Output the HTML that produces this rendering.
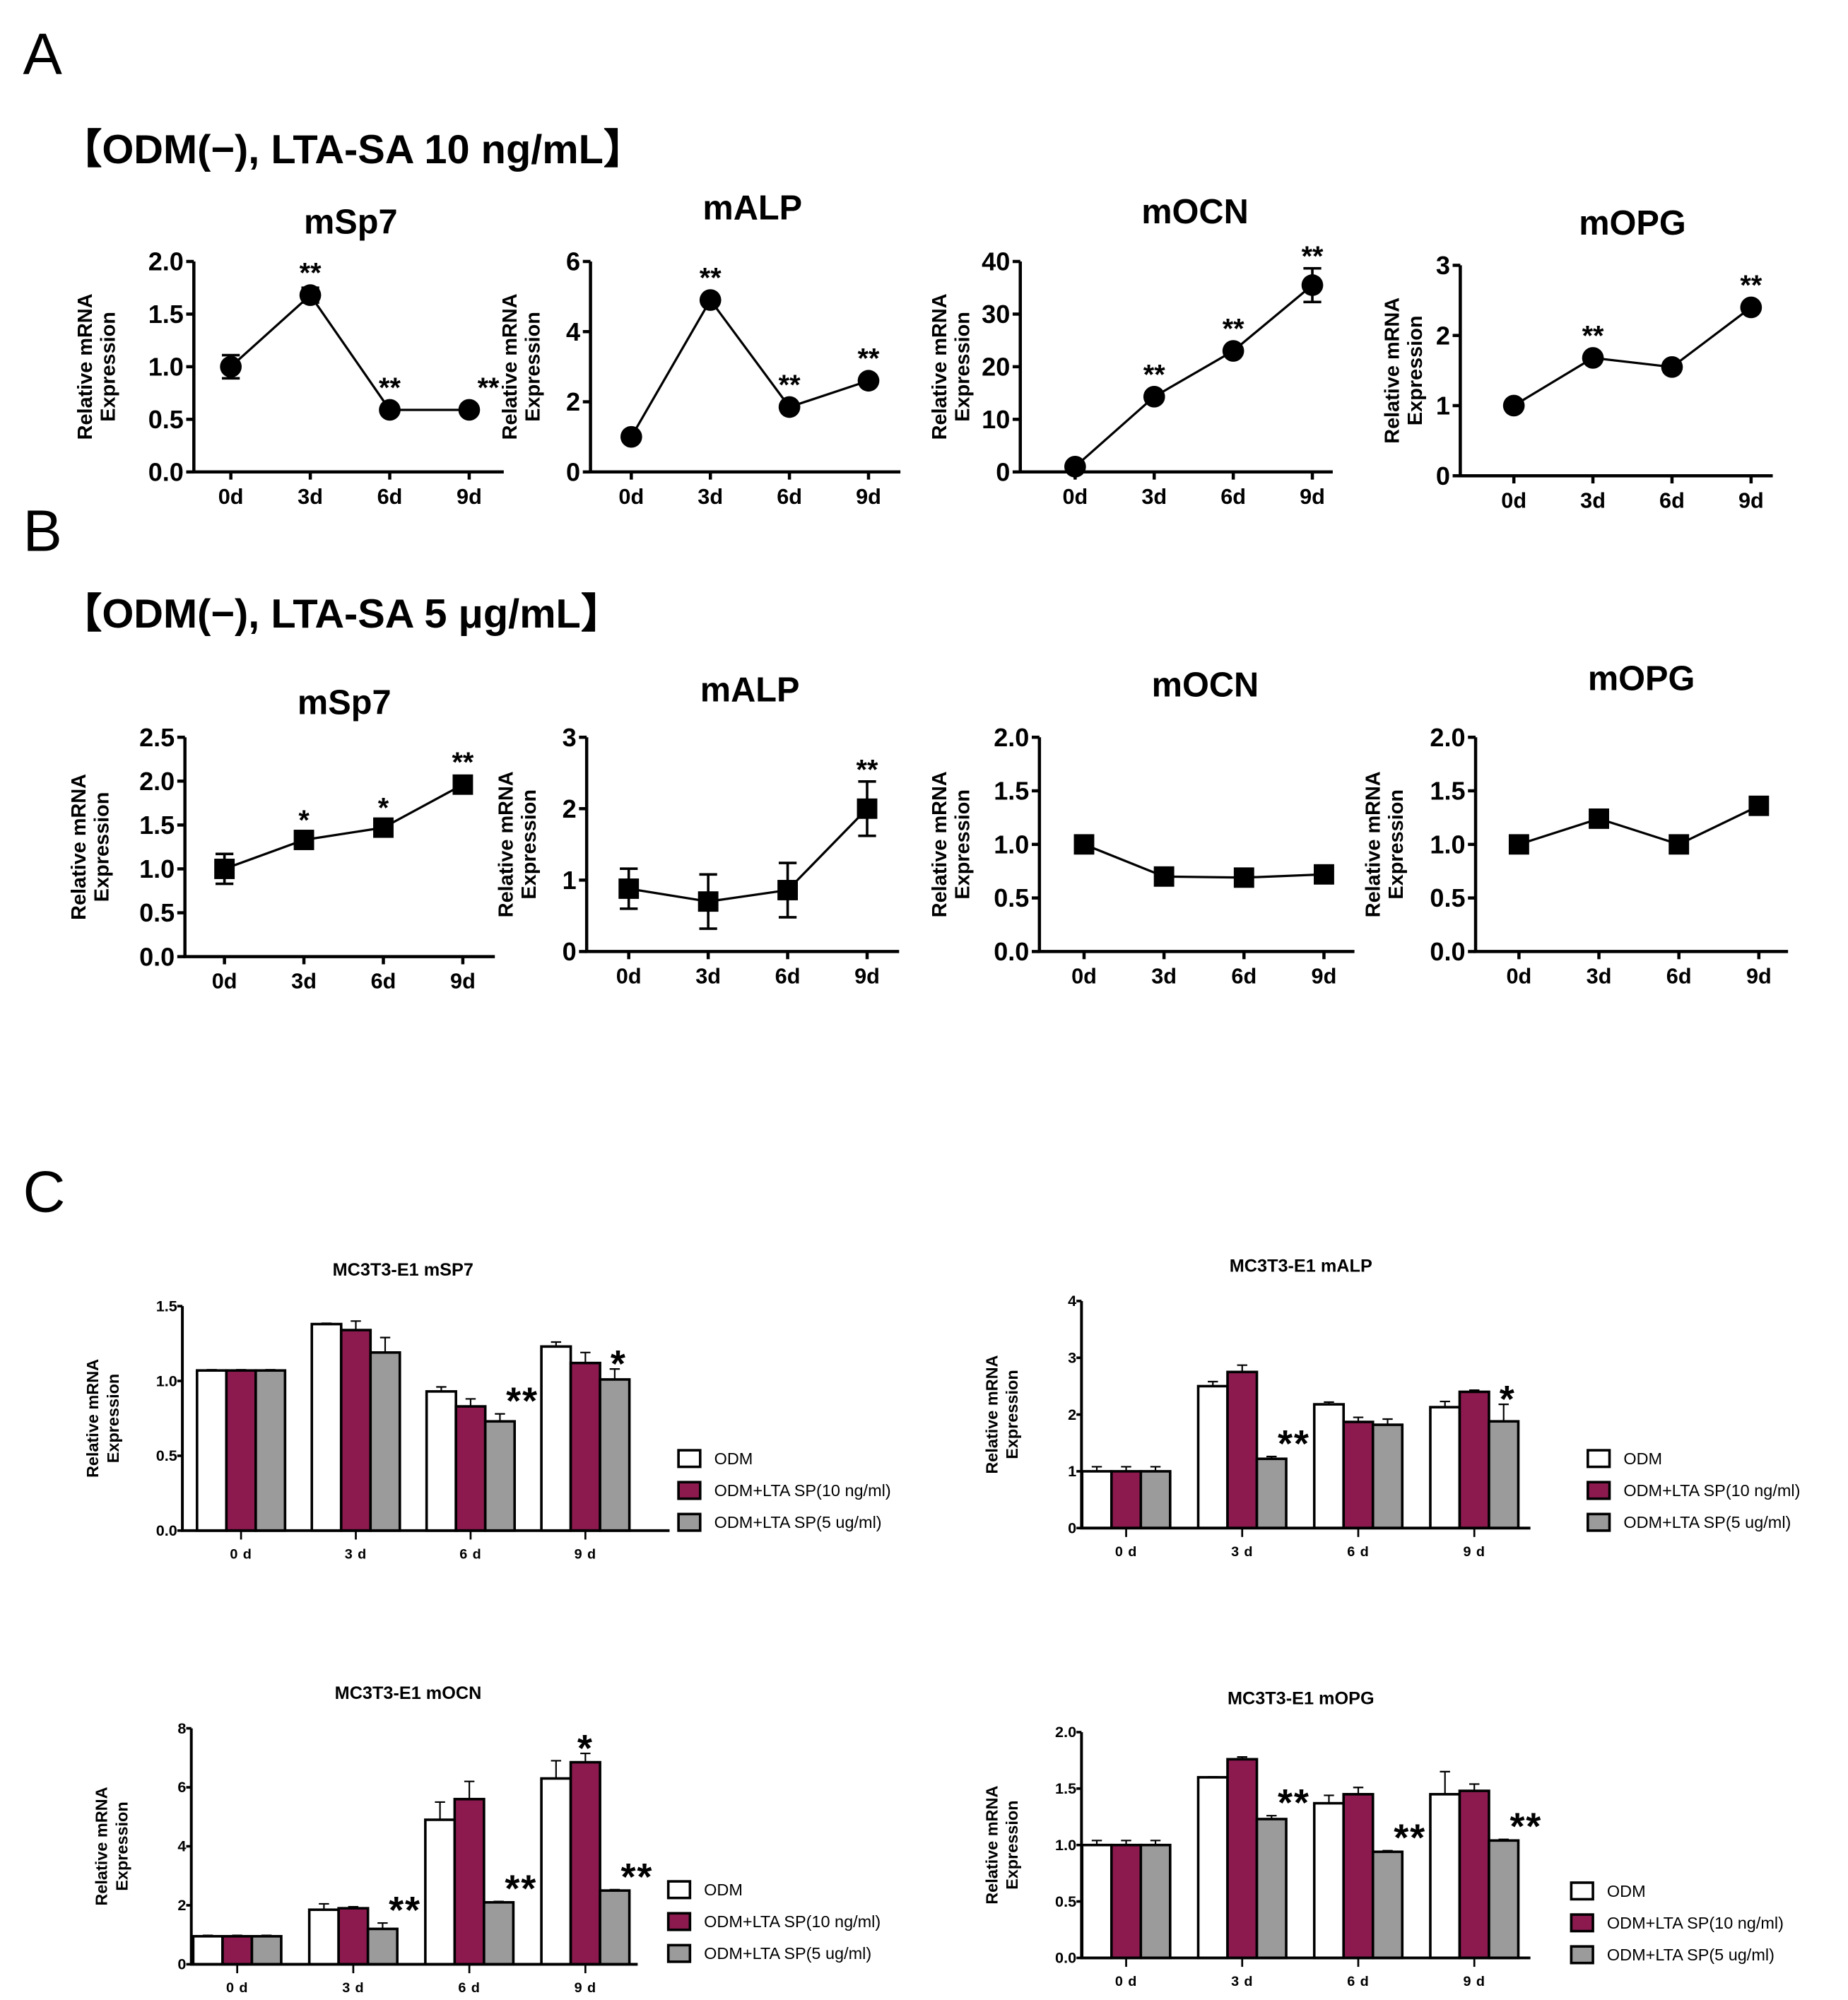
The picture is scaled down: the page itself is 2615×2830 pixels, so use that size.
<!DOCTYPE html>
<html><head><meta charset="utf-8">
<style>
html,body{margin:0;padding:0;background:#fff;}
svg{display:block;font-family:"Liberation Sans",Arial,sans-serif;}
</style></head>
<body>
<svg id="fig" width="2615" height="2830" viewBox="0 0 1449 1568" preserveAspectRatio="none" xmlns="http://www.w3.org/2000/svg">
<text x="18" y="58" font-size="46">A</text>
<text x="48" y="128" font-size="32" font-weight="bold">【ODM(−), LTA-SA 10 ng/mL】</text>
<text x="18" y="432" font-size="46">B</text>
<text x="48" y="492" font-size="32" font-weight="bold">【ODM(−), LTA-SA 5 μg/mL】</text>
<text x="18" y="950" font-size="46">C</text>
</svg>
<script>
// ---------- Line chart data ----------
const days = ["0d","3d","6d","9d"];
const aSp7Vals = [1.0, 1.68, 0.59, 0.59];
const aSp7Err = [0.11, 0.07, 0.02, 0.02];
const aSp7Stars = ["", "**", "**", "**"];
const aSp7Ticks = ["0.0","0.5","1.0","1.5","2.0"];
const aAlpVals = [1.0, 4.9, 1.85, 2.6];
const aAlpErr = [0.05, 0.1, 0.1, 0.1];
const aAlpStars = ["", "**", "**", "**"];
const aAlpTicks = ["0","2","4","6"];
const aOcnVals = [1.0, 14.3, 23.0, 35.5];
const aOcnErr = [0.3, 0.8, 0.8, 3.2];
const aOcnStars = ["", "**", "**", "**"];
const aOcnTicks = ["0","10","20","30","40"];
const aOpgVals = [1.0, 1.68, 1.55, 2.4];
const aOpgErr = [0.03, 0.05, 0.05, 0.05];
const aOpgStars = ["", "**", "", "**"];
const aOpgTicks = ["0","1","2","3"];
const bSp7Vals = [1.0, 1.33, 1.47, 1.96];
const bSp7Err = [0.17, 0.05, 0.05, 0.05];
const bSp7Stars = ["", "*", "*", "**"];
const bSp7Ticks = ["0.0","0.5","1.0","1.5","2.0","2.5"];
const bAlpVals = [0.88, 0.7, 0.86, 2.0];
const bAlpErr = [0.28, 0.38, 0.38, 0.38];
const bAlpStars = ["", "", "", "**"];
const bAlpTicks = ["0","1","2","3"];
const bOcnVals = [1.0, 0.7, 0.69, 0.72];
const bOcnErr = [0.02, 0.02, 0.02, 0.02];
const bOcnStars = ["", "", "", ""];
const bOcnTicks = ["0.0","0.5","1.0","1.5","2.0"];
const bOpgVals = [1.0, 1.24, 1.0, 1.36];
const bOpgErr = [0.02, 0.02, 0.02, 0.02];
const bOpgStars = ["", "", "", ""];
const bOpgTicks = ["0.0","0.5","1.0","1.5","2.0"];

// ---------- Bar chart data ----------
const barGroups = ["0 d","3 d","6 d","9 d"];
const seriesNames = ["ODM","ODM+LTA SP(10 ng/ml)","ODM+LTA SP(5 ug/ml)"];
const cSp7Odm = [1.07, 1.38, 0.93, 1.23];
const cSp7Lta10 = [1.07, 1.34, 0.83, 1.12];
const cSp7Lta5 = [1.07, 1.19, 0.73, 1.01];
const cSp7ErrOdm = [0.005, 0.005, 0.03, 0.03];
const cSp7ErrLta10 = [0.005, 0.06, 0.05, 0.07];
const cSp7ErrLta5 = [0.005, 0.1, 0.05, 0.07];
const cSp7Stars = ["", "", "**", "*"];
const cSp7Ticks = ["0.0","0.5","1.0","1.5"];
const cAlpOdm = [1.0, 2.5, 2.18, 2.13];
const cAlpLta10 = [1.0, 2.75, 1.87, 2.4];
const cAlpLta5 = [1.0, 1.22, 1.82, 1.88];
const cAlpErrOdm = [0.08, 0.08, 0.04, 0.1];
const cAlpErrLta10 = [0.08, 0.12, 0.08, 0.03];
const cAlpErrLta5 = [0.08, 0.04, 0.1, 0.3];
const cAlpStars = ["", "**", "", "*"];
const cAlpTicks = ["0","1","2","3","4"];
const cOcnOdm = [0.95, 1.85, 4.9, 6.3];
const cOcnLta10 = [0.95, 1.9, 5.6, 6.85];
const cOcnLta5 = [0.95, 1.2, 2.1, 2.5];
const cOcnErrOdm = [0.03, 0.2, 0.6, 0.6];
const cOcnErrLta10 = [0.03, 0.05, 0.6, 0.3];
const cOcnErrLta5 = [0.03, 0.2, 0.03, 0.03];
const cOcnStarsLta10 = ["", "", "", "*"];
const cOcnStars = ["", "**", "**", "**"];
const cOcnTicks = ["0","2","4","6","8"];
const cOpgOdm = [1.0, 1.6, 1.37, 1.45];
const cOpgLta10 = [1.0, 1.76, 1.45, 1.48];
const cOpgLta5 = [1.0, 1.23, 0.94, 1.04];
const cOpgErrOdm = [0.04, 0.005, 0.07, 0.2];
const cOpgErrLta10 = [0.04, 0.02, 0.06, 0.06];
const cOpgErrLta5 = [0.04, 0.03, 0.01, 0.01];
const cOpgStars = ["", "**", "**", "**"];
const cOpgTicks = ["0.0","0.5","1.0","1.5","2.0"];

const NS = "http://www.w3.org/2000/svg";
const svg = document.getElementById("fig");
function mk(tag, attrs, parent, txt){
  const e = document.createElementNS(NS, tag);
  for (const k in attrs) e.setAttribute(k, attrs[k]);
  if (txt !== undefined) e.textContent = txt;
  (parent || svg).appendChild(e);
  return e;
}

function lineChart(name, title, L, vals, errs, stars, ticks, marker){
  const g = mk("g", {});
  
  
  const ymax = parseFloat(ticks[ticks.length-1]);
  const ys = v => L.y0 - (v / ymax) * (L.y0 - L.yTop);
  const xs = i => L.x0 + i * L.dx;
  const t = mk("text", {x: L.tx, y: L.ty, "font-size": 27, "font-weight": "bold", "text-anchor": "middle"}, g, title);
  
  
  const ax = mk("path", {d: `M${L.ax} ${L.yTop}V${L.y0}H${L.xEnd}`, fill: "none", stroke: "#000", "stroke-width": 2.5}, g);
  
  
  ticks.forEach((tk) => {
    const v = parseFloat(tk), y = ys(v);
    mk("line", {x1: L.ax - 6, x2: L.ax, y1: y, y2: y, stroke: "#000", "stroke-width": 2.5}, g);
    const tl = mk("text", {x: L.ax - 8, y: y + 7, "font-size": 20, "font-weight": "bold", "text-anchor": "end"}, g, tk);
    
    
  });
  days.forEach((d, i) => {
    const x = xs(i);
    mk("line", {x1: x, x2: x, y1: L.y0, y2: L.y0 + 6, stroke: "#000", "stroke-width": 2.5}, g);
    const xl = mk("text", {x: x, y: L.y0 + 25, "font-size": 17, "font-weight": "bold", "text-anchor": "middle"}, g, d);
    
    
  });
  const cy = (L.yTop + L.y0) / 2;
  const yt = mk("text", {transform: `translate(${L.ax - L.yt},${cy}) rotate(-90)`, "font-size": 16, "font-weight": "bold", "text-anchor": "middle"}, g);
  
  
  mk("tspan", {x: 0, y: 0}, yt, "Relative mRNA");
  mk("tspan", {x: 0, y: 18}, yt, "Expression");
  const pts = vals.map((v, i) => `${xs(i)},${ys(v)}`).join(" ");
  const ln = mk("polyline", {points: pts, fill: "none", stroke: "#000", "stroke-width": 1.8}, g);
  
  
  vals.forEach((v, i) => {
    const x = xs(i), y = ys(v), e = errs[i];
    mk("path", {d: `M${x} ${ys(v+e)}V${ys(v-e)}M${x-7} ${ys(v+e)}H${x+7}M${x-7} ${ys(v-e)}H${x+7}`, stroke: "#000", "stroke-width": 2, fill: "none"}, g);
    let m;
    if (marker === "circle") m = mk("circle", {cx: x, cy: y, r: 8.5, fill: "#000"}, g);
    else m = mk("rect", {x: x - 8, y: y - 8, width: 16, height: 16, fill: "#000"}, g);
    
    
    if (stars[i]) {
      const sy = Math.min(y - 14, ys(v + e) - 6);
      const st = mk("text", {x: x + (L.starDx && i === 3 ? L.starDx : 0), y: sy + (stars[i] === "*" ? 6 : 4), "font-size": 22, "font-weight": "bold", "text-anchor": "middle"}, g, stars[i]);
      
      
    }
  });
}

lineChart("a-msp7", "mSp7", {ax:152,yTop:205,y0:370,xEnd:395,x0:181,dx:62.3,tx:275,ty:183,starDx:15,yt:80}, aSp7Vals, aSp7Err, aSp7Stars, aSp7Ticks, "circle");
lineChart("a-malp", "mALP", {ax:463,yTop:205,y0:370,xEnd:706,x0:495,dx:62,tx:590,ty:172,yt:58}, aAlpVals, aAlpErr, aAlpStars, aAlpTicks, "circle");
lineChart("a-mocn", "mOCN", {ax:800,yTop:205,y0:370,xEnd:1045,x0:843,dx:62,tx:937,ty:175,yt:58}, aOcnVals, aOcnErr, aOcnStars, aOcnTicks, "circle");
lineChart("a-mopg", "mOPG", {ax:1145,yTop:208,y0:373,xEnd:1390,x0:1187,dx:62,tx:1280,ty:184,yt:48}, aOpgVals, aOpgErr, aOpgStars, aOpgTicks, "circle");
lineChart("b-msp7", "mSp7", {ax:145,yTop:578,y0:750,xEnd:388,x0:176,dx:62.3,tx:270,ty:560,yt:78}, bSp7Vals, bSp7Err, bSp7Stars, bSp7Ticks, "square");
lineChart("b-malp", "mALP", {ax:460,yTop:578,y0:746,xEnd:705,x0:493,dx:62.3,tx:588,ty:550,yt:58}, bAlpVals, bAlpErr, bAlpStars, bAlpTicks, "square");
lineChart("b-mocn", "mOCN", {ax:815,yTop:578,y0:746,xEnd:1062,x0:850,dx:62.7,tx:945,ty:546,yt:73}, bOcnVals, bOcnErr, bOcnStars, bOcnTicks, "square");
lineChart("b-mopg", "mOPG", {ax:1157,yTop:578,y0:746,xEnd:1402,x0:1191,dx:62.7,tx:1287,ty:541,yt:75}, bOpgVals, bOpgErr, bOpgStars, bOpgTicks, "square");

const colors = ["#ffffff", "#8c1a4f", "#9b9b9b"];
function barChart(name, title, L, series, errs, stars, ticks, extraStars){
  const g = mk("g", {});
  
  
  const ymax = parseFloat(ticks[ticks.length-1]);
  const ys = v => L.y0 - (v / ymax) * (L.y0 - L.yTop);
  const t = mk("text", {x: L.tx, y: L.ty, "font-size": 14, "font-weight": "bold", "text-anchor": "middle"}, g, title);
  
  
  const bw = 23;
  barGroups.forEach((lab, gi) => {
    const cx = L.g0 + gi * L.gd;
    series.forEach((s, si) => {
      const x = cx - 1.5 * bw + si * bw, v = s[gi], e = errs[si][gi];
      mk("path", {d: `M${x + bw/2} ${ys(v)}V${ys(v+e)}M${x+bw/2-4} ${ys(v+e)}H${x+bw/2+4}`, stroke: "#000", "stroke-width": 1.2, fill: "none"}, g);
      const r = mk("rect", {x: x, y: ys(v), width: bw, height: L.y0 - ys(v), fill: colors[si], stroke: "#000", "stroke-width": 2}, g);
      
      
      const st = si === 2 ? stars[gi] : (si === 1 && extraStars ? extraStars[gi] : "");
      if (st) {
        const sx = si === 2 && st === "**" ? x + bw + 6 : x + bw/2 + (si === 2 ? 3 : 0);
        const sy = si === 2 && st === "**" ? ys(v + e) - 12 : ys(v + e) - 6;
        const s = mk("text", {x: sx, y: sy + 12, "font-size": 30, "font-weight": "bold", "text-anchor": "middle", "letter-spacing": 1}, g, st);
        
        
      }
    });
    mk("line", {x1: cx, x2: cx, y1: L.y0, y2: L.y0 + 7, stroke: "#000", "stroke-width": 1.5}, g);
    const xl = mk("text", {x: cx, y: L.y0 + 22, "font-size": 11, "font-weight": "bold", "text-anchor": "middle", "letter-spacing": 0.5}, g, lab);
    
    
  });
  const ax = mk("path", {d: `M${L.ax} ${L.yTop}V${L.y0}H${L.xEnd}`, fill: "none", stroke: "#000", "stroke-width": 2.2}, g);
  
  
  ticks.forEach((tk) => {
    const y = ys(parseFloat(tk));
    mk("line", {x1: L.ax - 4, x2: L.ax, y1: y, y2: y, stroke: "#000", "stroke-width": 2}, g);
    const tl = mk("text", {x: L.ax - 4, y: y + 4, "font-size": 12, "font-weight": "bold", "text-anchor": "end"}, g, tk);
    
    
  });
  const cy = (L.yTop + L.y0) / 2;
  const yt = mk("text", {transform: `translate(${L.ax - 66},${cy}) rotate(-90)`, "font-size": 13, "font-weight": "bold", "text-anchor": "middle"}, g);
  
  
  mk("tspan", {x: 0, y: 0}, yt, "Relative mRNA");
  mk("tspan", {x: 0, y: 16}, yt, "Expression");
  seriesNames.forEach((sn, i) => {
    const y = L.ly + i * 25;
    const b = mk("rect", {x: L.lx, y: y - 6, width: 17, height: 13, fill: colors[i], stroke: "#000", "stroke-width": 2}, g);
    
    
    const lt = mk("text", {x: L.lx + 28, y: y + 5, "font-size": 13}, g, sn);
    
    
  });
}

barChart("c-msp7", "MC3T3-E1 mSP7", {ax:143,yTop:1024,y0:1200,xEnd:525,g0:189,gd:90,tx:316,ty:1000,lx:532,ly:1143},
  [cSp7Odm, cSp7Lta10, cSp7Lta5], [cSp7ErrOdm, cSp7ErrLta10, cSp7ErrLta5], cSp7Stars, cSp7Ticks);
barChart("c-malp", "MC3T3-E1 mALP", {ax:848,yTop:1020,y0:1198,xEnd:1200,g0:883,gd:91,tx:1020,ty:997,lx:1245,ly:1143},
  [cAlpOdm, cAlpLta10, cAlpLta5], [cAlpErrOdm, cAlpErrLta10, cAlpErrLta5], cAlpStars, cAlpTicks);
barChart("c-mocn", "MC3T3-E1 mOCN", {ax:150,yTop:1355,y0:1540,xEnd:500,g0:186,gd:91,tx:320,ty:1332,lx:524,ly:1481},
  [cOcnOdm, cOcnLta10, cOcnLta5], [cOcnErrOdm, cOcnErrLta10, cOcnErrLta5], cOcnStars, cOcnTicks, cOcnStarsLta10);
barChart("c-mopg", "MC3T3-E1 mOPG", {ax:848,yTop:1358,y0:1535,xEnd:1200,g0:883,gd:91,tx:1020,ty:1336,lx:1232,ly:1482},
  [cOpgOdm, cOpgLta10, cOpgLta5], [cOpgErrOdm, cOpgErrLta10, cOpgErrLta5], cOpgStars, cOpgTicks);
</script>
</body></html>
